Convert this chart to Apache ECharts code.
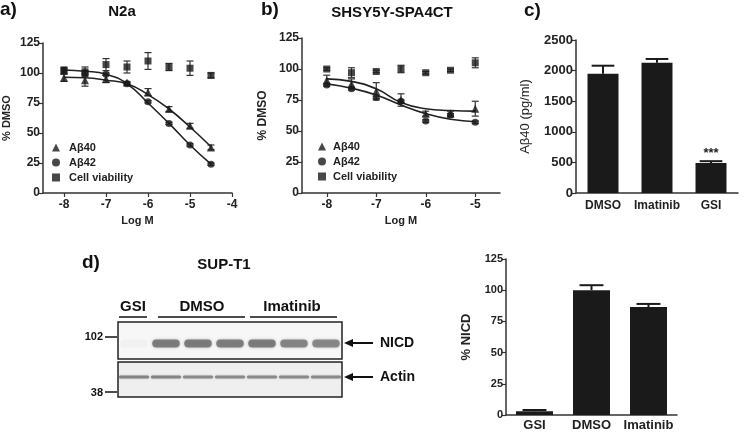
<!DOCTYPE html>
<html><head><meta charset="utf-8">
<script src="https://cdn.jsdelivr.net/npm/echarts@6/dist/echarts.min.js"></script>
<style>html,body{margin:0;padding:0;background:#fff}#c{width:745px;height:432px}</style>
</head><body><div id="c"></div>
<script>
// ---- Panel a: N2a ----
const logM_A = [-8, -7.5, -7, -6.5, -6, -5.5, -5, -4.5];
const a_ab40 = [96, 94, 95, 92, 84, 70, 56, 38];
const a_ab40_err = [3, 5, 3, 1, 3, 2, 2, 2];
const a_ab42 = [102, 100, 99, 91, 76, 58, 40, 24];
const a_ab42_err = [2, 2, 1, 1, 1, 1, 1, 1];
const a_via = [102, 101, 107, 105, 110, 105, 104, 98];
const a_via_err = [3, 4, 5, 5, 7, 3, 6, 2];
const a_fit40 = [96.5, 96, 94, 91, 82, 70, 55, 38.5];
const a_fit42 = [102.5, 101.5, 99, 91, 75, 58, 40, 24];
const a_ticks = [-8, -7, -6, -5, -4];

// ---- Panel b: SHSY5Y-SPA4CT ----
const logM_B = [-8, -7.5, -7, -6.5, -6, -5.5, -5];
const b_ab40 = [91, 88, 82, 75, 64, 64, 68];
const b_ab40_err = [4, 4, 7, 5, 2, 2, 6];
const b_ab42 = [87, 84, 77, 74, 58, 63, 57];
const b_ab42_err = [1, 1, 1, 1, 1, 1, 1];
const b_via = [100, 97, 98, 100, 97, 99, 105];
const b_via_err = [1, 4, 1, 3, 1, 1, 4];
const b_fit40 = [92, 90, 84, 73, 68, 66.5, 66];
const b_fit42 = [88, 84.5, 79, 71, 64, 59.5, 57.5];
const b_ticks = [-8, -7, -6, -5];

// ---- Panel c ----
const cCats = ['DMSO', 'Imatinib', 'GSI'];
const cVals = [1950, 2130, 490];
const cErr = [130, 60, 30];

// ---- Panel d ----
const dCats = ['GSI', 'DMSO', 'Imatinib'];
const dVals = [3, 100, 86.5];
const dErr = [1, 4, 2.5];

// ---- Western blot lanes ----
const blotLanes = ['GSI', 'DMSO-1', 'DMSO-2', 'DMSO-3', 'Imatinib-1', 'Imatinib-2', 'Imatinib-3'];
const nicdBand = [0.04, 0.8, 0.8, 0.78, 0.8, 0.72, 0.7];
const actinBand = [0.75, 0.75, 0.7, 0.7, 0.7, 0.7, 0.7];

const FONT = 'Liberation Sans, Arial, sans-serif';
const DARK = '#1a1a1a';
const axLine = {show: true, onZero: false, lineStyle: {color: '#333', width: 1.5}};
const tick = {show: true, length: 4, lineStyle: {color: '#333', width: 1.2}};
function lbl(size) { return {color: '#222', fontWeight: 'bold', fontSize: size, fontFamily: FONT}; }

function errBoth(params, api) {
  const x = api.value(0), lo = api.value(1), hi = api.value(2);
  const p1 = api.coord([x, lo]), p2 = api.coord([x, hi]);
  const w = 3.5;
  const st = {stroke: '#333', lineWidth: 1.2};
  return {type: 'group', children: [
    {type: 'line', shape: {x1: p1[0], y1: p1[1], x2: p2[0], y2: p2[1]}, style: st},
    {type: 'line', shape: {x1: p1[0] - w, y1: p1[1], x2: p1[0] + w, y2: p1[1]}, style: st},
    {type: 'line', shape: {x1: p2[0] - w, y1: p2[1], x2: p2[0] + w, y2: p2[1]}, style: st}
  ]};
}
function errUp(params, api) {
  const x = api.value(0), lo = api.value(1), hi = api.value(2);
  const p1 = api.coord([x, lo]), p2 = api.coord([x, hi]);
  const w = api.size([1, 0])[0] * 0.21;
  const st = {stroke: DARK, lineWidth: 2};
  return {type: 'group', children: [
    {type: 'line', shape: {x1: p1[0], y1: p1[1], x2: p2[0], y2: p2[1]}, style: st},
    {type: 'line', shape: {x1: p2[0] - w, y1: p2[1], x2: p2[0] + w, y2: p2[1]}, style: st}
  ]};
}
function bandRenderer(fy, h, col, wf, blur) {
  return function (params, api) {
    const lane = api.value(0), inten = api.value(1);
    const c = api.coord([lane, fy]);
    const bw = api.size([1, 0])[0] * wf;
    return {type: 'rect', shape: {x: c[0] - bw / 2, y: c[1] - h / 2, width: bw, height: h, r: h / 2},
      style: {fill: 'rgba(' + col + ',' + inten + ')', shadowBlur: blur, shadowColor: 'rgba(' + col + ',' + (inten * 0.7) + ')'}};
  };
}

function scatterSet(gi, xs, vals, errs, name, symbol, size) {
  return [
    {type: 'custom', name: name + '-err' + gi, xAxisIndex: gi, yAxisIndex: gi, renderItem: errBoth, z: 2,
      encode: {x: 0, y: [1, 2]}, silent: true,
      data: xs.map((x, i) => [x, vals[i] - errs[i], vals[i] + errs[i]])},
    {type: 'scatter', name: name, xAxisIndex: gi, yAxisIndex: gi, symbol: symbol, symbolSize: size, z: 4,
      itemStyle: {color: DARK}, data: xs.map((x, i) => [x, vals[i]])}
  ];
}
function fitLine(gi, xs, vals, id) {
  return {type: 'line', name: id, xAxisIndex: gi, yAxisIndex: gi, smooth: 0.5, showSymbol: false, symbol: 'none',
    silent: true, z: 3, lineStyle: {color: '#222', width: 1.6}, data: xs.map((x, i) => [x, vals[i]])};
}

const chart = echarts.init(document.getElementById('c'), null, {renderer: 'canvas'});

const txt = (x, y, t, size, align, weight) => ({type: 'text', x: x, y: y, silent: true,
  style: {text: t, fontSize: size, fontWeight: weight || 'bold', fontFamily: FONT, fill: '#111',
    textAlign: align || 'center', textVerticalAlign: 'middle'}});
const ln = (x1, y1, x2, y2, w) => ({type: 'line', silent: true, shape: {x1: x1, y1: y1, x2: x2, y2: y2},
  style: {stroke: '#111', lineWidth: w || 1.5}});
const arrow = (x1, x2, y) => ({type: 'group', silent: true, children: [
  ln(x1 + 6, y, x2, y, 2),
  {type: 'polygon', shape: {points: [[x1, y], [x1 + 9, y - 4], [x1 + 9, y + 4]]}, style: {fill: '#111'}}
]});
const plain = v => String(v);

const option = {
  animation: false,
  backgroundColor: '#fff',
  textStyle: {fontFamily: FONT},
  grid: [
    {left: 40, top: 43, width: 192, height: 150},
    {left: 302, top: 38, width: 198, height: 155},
    {left: 576, top: 40, width: 162, height: 153},
    {left: 506, top: 259, width: 171, height: 157},
    {left: 118, top: 322, width: 224, height: 37, show: true, borderColor: '#222', borderWidth: 1.5, backgroundColor: '#f7f7f7'},
    {left: 118, top: 362, width: 224, height: 35, show: true, borderColor: '#222', borderWidth: 1.5, backgroundColor: '#efefef'}
  ],
  xAxis: [
    {gridIndex: 0, type: 'value', min: -8.5, max: -4, axisLine: axLine,
      axisTick: Object.assign({}, tick, {customValues: a_ticks}),
      axisLabel: Object.assign(lbl(12), {customValues: a_ticks, margin: 6}), splitLine: {show: false},
      name: 'Log M', nameLocation: 'middle', nameGap: 22, nameTextStyle: lbl(11)},
    {gridIndex: 1, type: 'value', min: -8.5, max: -4.5, axisLine: axLine,
      axisTick: Object.assign({}, tick, {customValues: b_ticks}),
      axisLabel: Object.assign(lbl(12), {customValues: b_ticks, margin: 6}), splitLine: {show: false},
      name: 'Log M', nameLocation: 'middle', nameGap: 22, nameTextStyle: lbl(11)},
    {gridIndex: 2, type: 'category', data: cCats, axisLine: axLine, axisTick: {show: false},
      axisLabel: Object.assign(lbl(12), {margin: 7, interval: 0, hideOverlap: false})},
    {gridIndex: 3, type: 'category', data: dCats, axisLine: axLine, axisTick: {show: false},
      axisLabel: Object.assign(lbl(13), {margin: 4, interval: 0, hideOverlap: false})},
    {gridIndex: 4, type: 'category', data: blotLanes, show: false},
    {gridIndex: 5, type: 'category', data: blotLanes, show: false}
  ],
  yAxis: [
    {gridIndex: 0, type: 'value', min: 0, max: 125, interval: 25, axisLine: axLine, axisTick: tick,
      axisLabel: Object.assign(lbl(12), {margin: 3}), splitLine: {show: false},
      name: '% DMSO', nameLocation: 'middle', nameRotate: 90, nameGap: 31, nameTextStyle: lbl(11)},
    {gridIndex: 1, type: 'value', min: 0, max: 125, interval: 25, axisLine: axLine, axisTick: tick,
      axisLabel: Object.assign(lbl(12), {margin: 3}), splitLine: {show: false},
      name: '% DMSO', nameLocation: 'middle', nameRotate: 90, nameGap: 33, nameTextStyle: lbl(12)},
    {gridIndex: 2, type: 'value', min: 0, max: 2500, interval: 500, axisLine: axLine, axisTick: tick,
      axisLabel: Object.assign(lbl(13), {margin: 3, formatter: plain}), splitLine: {show: false},
      name: 'Aβ40 (pg/ml)', nameLocation: 'middle', nameRotate: 90, nameGap: 44,
      nameTextStyle: {fontSize: 13, color: '#222', fontFamily: FONT}},
    {gridIndex: 3, type: 'value', min: 0, max: 125, interval: 25, axisLine: axLine, axisTick: tick,
      axisLabel: Object.assign(lbl(11), {margin: 3}), splitLine: {show: false},
      name: '% NICD', nameLocation: 'middle', nameRotate: 90, nameGap: 33, nameTextStyle: lbl(13)},
    {gridIndex: 4, type: 'value', min: 0, max: 1, show: false},
    {gridIndex: 5, type: 'value', min: 0, max: 1, show: false}
  ],
  legend: [
    {data: ['Aβ40', 'Aβ42', 'Cell viability'], orient: 'vertical', left: 47, top: 137, itemWidth: 8, itemHeight: 8,
      itemGap: 4, selectedMode: false, textStyle: Object.assign(lbl(11), {padding: [0, 0, 0, 4]})},
    {data: ['Aβ40', 'Aβ42', 'Cell viability'], orient: 'vertical', left: 313, top: 136, itemWidth: 8, itemHeight: 8,
      itemGap: 4, selectedMode: false, textStyle: Object.assign(lbl(11), {padding: [0, 0, 0, 2]})}
  ],
  series: [].concat(
    [fitLine(0, logM_A, a_fit40, 'fitA40'), fitLine(0, logM_A, a_fit42, 'fitA42')],
    scatterSet(0, logM_A, a_ab40, a_ab40_err, 'Aβ40', 'triangle', 8),
    scatterSet(0, logM_A, a_ab42, a_ab42_err, 'Aβ42', 'circle', 7),
    scatterSet(0, logM_A, a_via, a_via_err, 'Cell viability', 'rect', 7),
    [fitLine(1, logM_B, b_fit40, 'fitB40'), fitLine(1, logM_B, b_fit42, 'fitB42')],
    scatterSet(1, logM_B, b_ab40, b_ab40_err, 'Aβ40', 'triangle', 8),
    scatterSet(1, logM_B, b_ab42, b_ab42_err, 'Aβ42', 'circle', 7),
    scatterSet(1, logM_B, b_via, b_via_err, 'Cell viability', 'rect', 7),
    [
      {type: 'custom', name: 'cErr', xAxisIndex: 2, yAxisIndex: 2, renderItem: errUp, z: 1, silent: true,
        encode: {x: 0, y: [1, 2]}, data: cVals.map((v, i) => [i, v, v + cErr[i]])},
      {type: 'bar', name: 'Aβ40 pg/ml', xAxisIndex: 2, yAxisIndex: 2, barWidth: 31, z: 2,
        itemStyle: {color: DARK},
        data: cVals.map((v, i) => cCats[i] === 'GSI'
          ? {value: v, label: {show: true, position: 'top', distance: 3, formatter: '***',
              fontSize: 13, fontWeight: 'bold', color: '#222', fontFamily: FONT}}
          : v)},
      {type: 'custom', name: 'dErr', xAxisIndex: 3, yAxisIndex: 3, renderItem: errUp, z: 1, silent: true,
        encode: {x: 0, y: [1, 2]}, data: dVals.map((v, i) => [i, v, v + dErr[i]])},
      {type: 'bar', name: '% NICD', xAxisIndex: 3, yAxisIndex: 3, barWidth: 37, z: 2,
        itemStyle: {color: DARK}, data: dVals},
      {type: 'custom', name: 'NICD band', xAxisIndex: 4, yAxisIndex: 4, silent: true,
        renderItem: bandRenderer(0.42, 8, '105,105,105', 0.86, 3), encode: {x: 0, y: 1},
        data: nicdBand.map((v, i) => [i, v])},
      {type: 'custom', name: 'Actin band', xAxisIndex: 5, yAxisIndex: 5, silent: true,
        renderItem: bandRenderer(0.57, 3, '110,110,110', 0.95, 2), encode: {x: 0, y: 1},
        data: actinBand.map((v, i) => [i, v])}
    ]
  ),
  graphic: [
    txt(0, 10, 'a)', 19, 'left'),
    txt(122, 12, 'N2a', 15),
    txt(261, 10, 'b)', 19, 'left'),
    txt(392, 13, 'SHSY5Y-SPA4CT', 15),
    txt(524, 11, 'c)', 19, 'left'),
    txt(82, 263, 'd)', 19, 'left'),
    txt(224, 265, 'SUP-T1', 15),
    txt(133, 307, 'GSI', 15), ln(119, 317, 147, 317),
    txt(202, 307, 'DMSO', 15), ln(158, 317, 245, 317),
    txt(292, 307, 'Imatinib', 15), ln(250, 317, 337, 317),
    txt(103, 337, '102', 11, 'right'), ln(105, 337, 117, 337),
    txt(103, 393, '38', 11, 'right'), ln(105, 392, 117, 392),
    arrow(344, 373, 343), txt(380, 343, 'NICD', 14, 'left'),
    arrow(344, 373, 377), txt(380, 377, 'Actin', 14, 'left')
  ]
};
chart.setOption(option);
</script></body></html>
